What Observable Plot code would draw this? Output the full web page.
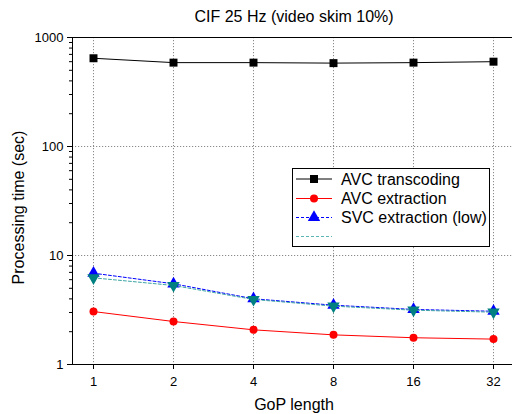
<!DOCTYPE html>
<html>
<head>
<meta charset="utf-8">
<script src="https://cdn.jsdelivr.net/npm/d3@7"></script>
<script src="https://cdn.jsdelivr.net/npm/@observablehq/plot@0.6"></script>
<style>
  html, body { margin: 0; padding: 0; background: #fff; overflow: hidden; }
  svg { display: block; }
</style>
</head>
<body>
<div id="chart"></div>
<script>
// ---- Data ----
const gop = ["1", "2", "4", "8", "16", "32"];
const avcTranscoding = [645, 588, 588, 582, 588, 600];
const avcExtraction = [3.06, 2.48, 2.08, 1.87, 1.76, 1.71];
const svcExtractionLow = [6.88, 5.50, 4.01, 3.50, 3.20, 3.08];
const svcExtractionOther = [6.24, 5.31, 3.95, 3.43, 3.15, 3.02];
const seriesNames = ["AVC transcoding", "AVC extraction", "SVC extraction (low)", ""];
const yMajorTicks = [1, 10, 100, 1000];
const yGridTicks = [10, 100];
const titleText = "CIF 25 Hz (video skim 10%)";
const xLabel = "GoP length";
const yLabel = "Processing time (sec)";

// ---- Styles ----
const styles = [
  {stroke: "#000000", fill: "#000000", symbol: "square", r: 4.5, dash: null, rotate: 0},
  {stroke: "#ff0000", fill: "#ff0000", symbol: "circle", r: 4, dash: null, rotate: 0},
  {stroke: "#0000ff", fill: "#0000ff", symbol: "triangle", r: 4.6, dash: "3,2", rotate: 0},
  {stroke: "#3fa5a5", fill: "#008080", symbol: "triangle", r: 4.6, dash: "3,2", rotate: 180}
];
const seriesValues = [avcTranscoding, avcExtraction, svcExtractionLow, svcExtractionOther];
const tables = seriesValues.map(vals => gop.map((g, i) => ({gop: g, value: vals[i]})));

const yMinor = [];
for (const d of [1, 10, 100]) for (let k = 2; k <= 9; k++) yMinor.push(d * k);

const font = "'Liberation Sans', Arial, Helvetica, sans-serif";
const gridStyle = {stroke: "#8a8a8a", strokeOpacity: 1, strokeDasharray: "1.2,1.8"};

const seriesMarks = tables.flatMap((t, i) => {
  const s = styles[i];
  return [
    Plot.line(t, {x: "gop", y: "value", stroke: s.stroke, strokeWidth: 1, strokeDasharray: s.dash}),
    Plot.dot(t, {x: "gop", y: "value", symbol: s.symbol, r: s.r, fill: s.fill, stroke: "none", rotate: s.rotate})
  ];
});

const centered = {textAnchor: "middle", lineAnchor: "middle", fontSize: 16, fill: "#000"};

const chart = Plot.plot({
  width: 512,
  height: 414,
  marginLeft: 72,
  marginRight: 0,
  marginTop: 37,
  marginBottom: 50,
  style: {fontFamily: font, fontSize: "13px", color: "#000", background: "#fff"},
  x: {type: "point", domain: gop, range: [93, 493], padding: 0},
  y: {type: "log", domain: [1, 1000]},
  marks: [
    Plot.gridX({...gridStyle}),
    Plot.gridY(yGridTicks, {...gridStyle}),
    Plot.frame({anchor: "left", stroke: "#000"}),
    Plot.frame({anchor: "top", stroke: "#000"}),
    Plot.frame({anchor: "bottom", stroke: "#000"}),
    Plot.axisY(yMajorTicks, {tickSize: 5, tickPadding: 4, tickFormat: d => String(d), label: null, fontSize: 13}),
    Plot.axisY(yMinor, {tickSize: 3, tickFormat: () => "", label: null}),
    Plot.axisX({tickSize: 5, tickPadding: 7, label: null, fontSize: 13}),
    ...seriesMarks,
    Plot.text([titleText], {...centered, frameAnchor: "top", dx: 1.5, dy: -20.5, text: d => d}),
    Plot.text([xLabel], {...centered, frameAnchor: "bottom", dx: 1.5, dy: 40, text: d => d}),
    Plot.text([yLabel], {...centered, frameAnchor: "left", dx: -54, dy: 6.5, rotate: -90, text: d => d})
  ]
});

document.getElementById("chart").appendChild(chart);

// ---- Legend (inside the plot area, upper right) ----
const svg = d3.select(chart);
const lg = svg.append("g").attr("class", "legend").attr("font-family", font).attr("font-size", 16)
  .attr("text-anchor", "start");
const box = {x: 292.5, y: 168.5, w: 197, h: 78};
lg.append("rect").attr("x", box.x).attr("y", box.y).attr("width", box.w).attr("height", box.h)
  .attr("fill", "#fff").attr("stroke", "#000").attr("stroke-width", 1);
const rowY = [179, 198.5, 217.5, 236.5];
seriesNames.forEach((name, i) => {
  const s = styles[i];
  const y = rowY[i];
  lg.append("line").attr("x1", 296).attr("x2", 332).attr("y1", y).attr("y2", y)
    .attr("stroke", i === 3 ? "#5bb5b5" : s.stroke).attr("stroke-width", i === 2 ? 1.2 : 1)
    .attr("stroke-dasharray", s.dash);
  if (i < 3) {
    const sym = s.symbol === "square" ? d3.symbolSquare : s.symbol === "circle" ? d3.symbolCircle : d3.symbolTriangle;
    const size = s.symbol === "square" ? 64 : Math.PI * s.r * s.r;
    lg.append("path").attr("d", d3.symbol(sym, size)()).attr("transform", `translate(314,${y})`)
      .attr("fill", s.fill);
  }
  if (name) {
    lg.append("text").attr("x", 341).attr("y", y).attr("dy", "0.35em").attr("text-anchor", "start")
      .attr("fill", "#000").text(name);
  }
});
</script>
</body>
</html>
